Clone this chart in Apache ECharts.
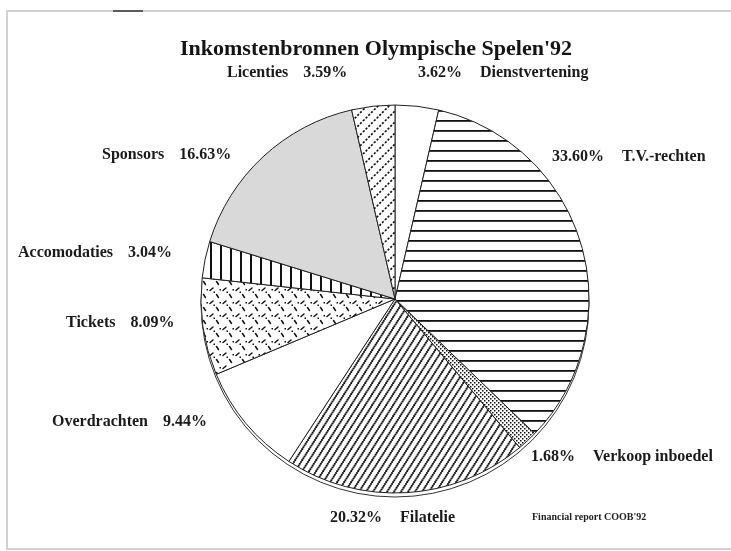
<!DOCTYPE html>
<html><head><meta charset="utf-8">
<script src="https://cdn.jsdelivr.net/npm/echarts@6/dist/echarts.min.js"></script>
<style>html,body{margin:0;padding:0;background:#fff}#c{width:731px;height:551px}</style>
</head><body><div id="c"></div>
<script>
// ---- data ----
const categories = ['Dienstvertening','T.V.-rechten','Verkoop inboedel','Filatelie','Overdrachten','Tickets','Accomodaties','Sponsors','Licenties'];
const shares = [3.62, 33.60, 1.68, 20.32, 9.44, 8.09, 3.04, 16.63, 3.59];
const titleText = "Inkomstenbronnen Olympische Spelen'92";
const sourceText = "Financial report COOB'92";

// ---- label layout (left x, middle y) ----
const labelPos = [[418,73],[552,157],[531,457],[330,518],[52,422],[66,323],[18,253],[102,155],[227,73]];

// ---- patterns ----
function tile(w,h,draw){const c=document.createElement('canvas');c.width=w;c.height=h;const g=c.getContext('2d');g.fillStyle='#fff';g.fillRect(0,0,w,h);g.strokeStyle='#111';g.fillStyle='#111';draw(g,w,h);return {image:c,repeat:'repeat'};}
const pHoriz = tile(10,10,(g,w)=>{g.fillRect(0,0,w,1.8);});
const pVert = tile(10,10,(g,w,h)=>{g.fillRect(0,0,2,h);});
const pDots = tile(4,4,(g)=>{g.fillRect(0,0,1.5,1.5);g.fillRect(2,2,1.5,1.5);});
const pFil = tile(7,11,(g,w,h)=>{
  for(let k=-1;k<=1;k++){for(let t=0;t<1;t+=1/6){const x=k*w+t*w, y=h-t*h; g.beginPath();g.arc(x,y,1.1,0,Math.PI*2);g.fill();}}
});
const pLic = tile(11,11,(g,w,h)=>{g.lineWidth=1.6;g.setLineDash([2.2,1.6]);
  for(let k=-1;k<=1;k++){g.beginPath();g.moveTo(k*w,h);g.lineTo(k*w+w,0);g.stroke();}});
const pTix = tile(13,13,(g)=>{g.lineWidth=1.5;g.lineCap='round';
  g.beginPath();g.moveTo(2,4.5);g.lineTo(5,2);g.stroke();
  g.beginPath();g.moveTo(8.5,8.5);g.lineTo(10.5,11.5);g.stroke();
  g.fillRect(5.5,5.5,1.5,1.5);g.fillRect(11.5,3,1.5,1.5);});
const fills = ['#ffffff', pHoriz, pDots, pFil, '#ffffff', pTix, pVert, '#d9d9d9', pLic];

// ---- build ----
const total = shares.reduce((a,b)=>a+b,0);
let cum = 0;
const sides = shares.map(v=>{const mid = cum + v/2; cum += v; return mid < total/2 ? 'right' : 'left';});
const pieData = categories.map((n,i)=>({name:n, value:shares[i], itemStyle:{color:fills[i]}}));

const chart = echarts.init(document.getElementById('c'), null, {renderer:'canvas'});
const center = [395, 299], radius = 194;
const txt = {fontFamily:'Liberation Serif', fontWeight:'bold', fontSize:16, color:'#1a1a1a'};
chart.setOption({
  backgroundColor:'#ffffff',
  animation:false,
  title:{text:titleText, left:175, top:33, textStyle:{fontFamily:'Liberation Serif', fontWeight:'bold', fontSize:22, color:'#141414'}},
  graphic:[
    {type:'rect', shape:{x:7,y:11,width:740,height:538}, style:{fill:'none', stroke:'#c4c4c4', lineWidth:1.5}, z:-10},
    {type:'line', shape:{x1:113,y1:11,x2:143,y2:11}, style:{stroke:'#333', lineWidth:1.5}},
    {type:'text', left:532, top:512, style:{text:sourceText, font:'bold 10px "Liberation Serif"', fill:'#222'}}
  ],
  series:[
    {type:'pie', silent:true, center:[center[0], center[1]+4], radius:radius, startAngle:90,
     data:[{value:total, name:'rim'}], label:{show:false}, labelLine:{show:false},
     itemStyle:{color:'#fff', borderColor:'#333', borderWidth:1}, z:1},
    {type:'pie', center:center, radius:radius, startAngle:90, clockwise:true, z:2,
     data:pieData,
     itemStyle:{borderColor:'#222', borderWidth:1},
     labelLine:{show:false},
     label:{show:true, position:'outside', overflow:'none', width:400, ...txt,
       rich:{t:{...txt}, g:{width:15}, gr:{width:18}},
       formatter:p=>{const pct=shares[p.dataIndex].toFixed(2)+'%';
         return sides[p.dataIndex]==='right' ? '{t|'+pct+'}{gr|}{t|'+p.name+'}' : '{t|'+p.name+'}{g|}{t|'+pct+'}';}},
     labelLayout:p=>({x:labelPos[p.dataIndex][0], y:labelPos[p.dataIndex][1], align:'left', verticalAlign:'middle'})
    }
  ]
});
</script></body></html>
